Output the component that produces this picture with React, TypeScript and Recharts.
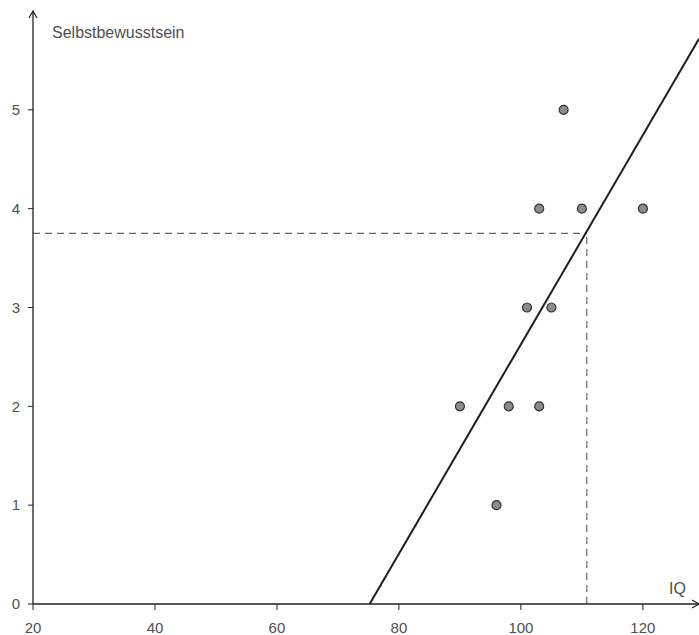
import { ScatterChart, Scatter, XAxis, YAxis, ReferenceLine } from "recharts";

// IQ vs. Selbstbewusstsein
const iqValues = [90, 96, 98, 101, 103, 103, 105, 107, 110, 120];
const selbstValues = [2, 1, 2, 3, 2, 4, 3, 5, 4, 4];

const xTicks = [20, 40, 60, 80, 100, 120];
const yTicks = [0, 1, 2, 3, 4, 5];

// Regressionsgerade (Endpunkte) und Ablesepunkt
const trendX = [75.2, 129.2];
const trendY = [0, 5.72];
const readIQ = 110.8;
const readSelbst = 3.75;

const points = iqValues.map((iq, i) => ({ iq, selbst: selbstValues[i] }));

const font = "'Liberation Sans', Arial, Helvetica, sans-serif";
const textColor = "#505050";

export default function App() {
  return (
    <div style={{ position: "absolute", left: 0, top: 0 }}>
      <ScatterChart width={699} height={635} margin={{ top: 11, right: 0, bottom: 0, left: 0 }}>
        <defs>
          <marker
            id="arrow"
            markerUnits="userSpaceOnUse"
            markerWidth={16}
            markerHeight={16}
            viewBox="-8 -8 16 16"
            refX={0}
            refY={0}
            orient="auto-start-reverse"
            overflow="visible"
          >
            <path d="M-7,-4 L0,0 L-7,4" fill="none" stroke="#222" strokeWidth={1.2} />
          </marker>
        </defs>
        <XAxis
          type="number"
          dataKey="iq"
          domain={[20, 129.2]}
          ticks={xTicks}
          allowDataOverflow
          height={31}
          tickSize={6}
          tickMargin={12}
          axisLine={{ stroke: "#222", strokeWidth: 1.3, markerEnd: "url(#arrow)" }}
          tickLine={{ stroke: "#222" }}
          tick={{ fill: textColor, fontSize: 15, fontFamily: font }}
          label={{
            content: (props: any) => {
              const vb = props.viewBox;
              return (
                <text x={vb.x + vb.width - 30} y={vb.y - 10} fill={textColor} fontSize={16} fontFamily={font}>
                  IQ
                </text>
              );
            },
          }}
        />
        <YAxis
          type="number"
          dataKey="selbst"
          domain={[0, 6]}
          ticks={yTicks}
          allowDataOverflow
          width={33}
          tickSize={5}
          tickMargin={8}
          axisLine={{ stroke: "#222", strokeWidth: 1.3, markerStart: "url(#arrow)" }}
          tickLine={{ stroke: "#222" }}
          tick={{ fill: textColor, fontSize: 15, fontFamily: font }}
          label={{
            content: (props: any) => {
              const vb = props.viewBox;
              return (
                <text x={vb.x + vb.width + 19} y={vb.y + 27} fill={textColor} fontSize={16} fontFamily={font}>
                  Selbstbewusstsein
                </text>
              );
            },
          }}
        />
        <ReferenceLine
          segment={[
            { x: 20, y: readSelbst },
            { x: readIQ, y: readSelbst },
          ]}
          stroke="#666"
          strokeDasharray="7 5"
          strokeWidth={1.2}
        />
        <ReferenceLine
          segment={[
            { x: readIQ, y: 0 },
            { x: readIQ, y: readSelbst },
          ]}
          stroke="#666"
          strokeDasharray="7 5"
          strokeWidth={1.2}
        />
        <ReferenceLine
          segment={[
            { x: trendX[0], y: trendY[0] },
            { x: trendX[1], y: trendY[1] },
          ]}
          stroke="#1e1e1e"
          strokeWidth={2}
        />
        <Scatter data={points} fill="#8c8c8c" stroke="#333" strokeWidth={1.2} isAnimationActive={false} />
      </ScatterChart>
    </div>
  );
}
